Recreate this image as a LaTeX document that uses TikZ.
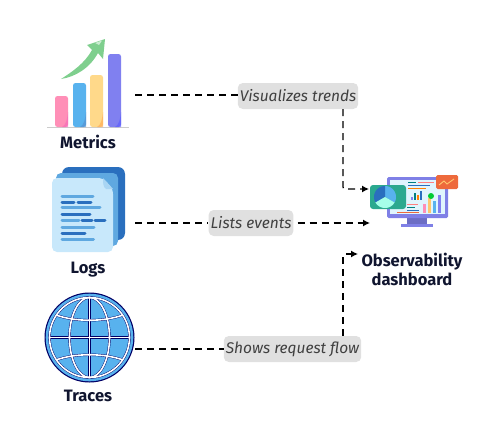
\documentclass[tikz,border=0pt]{standalone}
\usepackage{fontspec}
\setmainfont{Fira Sans}
\usetikzlibrary{positioning, calc, arrows.meta}
\definecolor{inkdark}{HTML}{10152F}
\definecolor{taggray}{HTML}{E0E0E0}
\definecolor{skyblue}{HTML}{58B2EE}
\definecolor{docdark}{HTML}{2A6FBE}
\definecolor{docmid}{HTML}{5FA8E0}
\definecolor{docfront}{HTML}{C8E8FB}
\definecolor{barpink}{HTML}{FF8FB7}
\definecolor{baryellow}{HTML}{FFD98A}
\definecolor{barpurple}{HTML}{8080F0}
\definecolor{framepurple}{HTML}{7F80E6}
\definecolor{cardgreen}{HTML}{2BA98F}
\definecolor{cardorange}{HTML}{EE6A3C}
\definecolor{arrowgreen}{HTML}{7FCF8E}
\tikzset{
    title/.style={font=\fontsize{16.5}{18}\selectfont\bfseries, text=inkdark, align=center},
    tag/.style={font=\fontsize{15.5}{17}\selectfont\itshape, text=black!75, fill=taggray, rounded corners=5pt, inner xsep=2pt, minimum height=26pt},
    link/.style={dash pattern=on 7pt off 5pt, line width=1.25pt, black},
    tip/.style={-{Latex[length=7pt,width=7pt]}},
    docline/.style={line width=3pt, line cap=round},
    gridwhite/.style={white, line width=1.6pt},
    griddark/.style={black!60!blue, line width=2.4pt}
}
\begin{document}
\begin{tikzpicture}[x=1pt, y=-1pt]
    \useasboundingbox (0,0) rectangle (485,447);
    %punti di partenza e arrivo
    \coordinate (metricsout) at (135,95);
    \coordinate (logsout) at (135,223);
    \coordinate (tracesout) at (135,349);
    \coordinate (dashin) at (369,189);
    \coordinate (logsin) at (370,223);
    \coordinate (tracesin) at (358,254);
    %etichette
    \node[tag] (trends) at (298,96) {Visualizes trends};
    \node[tag] (events) at (251,223) {Lists events};
    \node[tag] (flow) at (292.5,349) {Shows request flow};
    %titoli
    \node[title] (metrics) at (88,142) {Metrics};
    \node[title] (logs) at (88,270) {Logs};
    \node[title] (traces) at (88,395.5) {Traces};
    \node[title] (dashboard) at (412,269.5) {Observability\\[1pt]dashboard};
    %disegno collegamenti
    \draw[link] (metricsout) -- (metricsout -| trends.west);
    \draw[link] (logsout) -- (events.west);
    \draw[link] (tracesout) -- (flow.west);
    \draw[link, tip, rounded corners=2pt] (trends.south -| 343,0) |- (dashin);
    \draw[link, tip, shorten <=4pt] (events.east) -- (logsin);
    \draw[link, tip, rounded corners=2pt] (flow.north -| 343,0) |- (tracesin);
    %disegno barre
    \draw[black!20, line width=0.8pt] (47,127) -- (129,127);
    \foreach \x/\h/\colbar/\colside in {55/96/barpink/magenta!60, 73/83/skyblue/docdark!80, 90/75/baryellow/orange!70, 108/54/barpurple/blue!65!white}
        {
        \fill[\colbar, rounded corners=2.5pt] (\x,127) -- (\x,\h) -- (\x+13,\h) -- (\x+13,127) -- cycle;
        \fill[\colside, opacity=0.6] (\x+13,112) -- (\x+13,127) -- (\x+7,127) .. controls (\x+11,125) and (\x+12,120) .. cycle;
        }
    %disegno freccia verde
    \fill[arrowgreen] (61,79) .. controls (72,72) and (85,63) .. (92,50) -- (87,45) -- (105,39) -- (103,59) -- (98,53) .. controls (90,68) and (75,77) .. cycle;
    \fill[white, opacity=0.6] (95,43) -- (102,40.5) -- (99,45) -- cycle;
    %disegno fogli
    \fill[docdark, rounded corners=7pt] (62,167) rectangle (125,240);
    \fill[docmid, rounded corners=5pt] (56,173) rectangle (118,246);
    \fill[docfront, rounded corners=5pt] (52,178) -- (103,178) -- (113,189) -- (113,252) -- (52,252) -- cycle;
    \fill[docfront!70!docmid] (103,178) -- (113,189) -- (106,189) .. controls (103,187) and (103,183) .. cycle;
    \foreach \xa/\xb/\y/\col in {62/93/196/docmid, 62/74/202/docdark, 78/91/202/docdark, 62/100/207/docmid, 62/90/214/docdark, 62/79/220/docmid, 82/92/220/docdark, 95/105/220/docdark, 62/94/227/docmid, 62/85/233/docdark, 62/93.5/239/docmid}
        \draw[docline, \col] (\xa,\y) -- (\xb,\y);
    %disegno globo
    \fill[black!60!blue] (89.5,337.5) circle (45);
    \fill[skyblue] (89.5,337.5) circle (43.8);
    \draw[griddark] (89.5,337.5) circle (40);
    \draw[griddark] (89.5,337.5) ellipse (20 and 40);
    \draw[griddark] (89.5,297.5) -- (89.5,377.5);
    \draw[griddark] (49.5,337.5) -- (129.5,337.5);
    \draw[griddark] (56,315) .. controls (75,322) and (104,322) .. (123,315);
    \draw[griddark] (56,360) .. controls (75,353) and (104,353) .. (123,360);
    \draw[gridwhite] (89.5,337.5) circle (40);
    \draw[gridwhite] (89.5,337.5) ellipse (20 and 40);
    \draw[gridwhite] (89.5,297.5) -- (89.5,377.5);
    \draw[gridwhite] (49.5,337.5) -- (129.5,337.5);
    \draw[gridwhite] (56,315) .. controls (75,322) and (104,322) .. (123,315);
    \draw[gridwhite] (56,360) .. controls (75,353) and (104,353) .. (123,360);
    %disegno monitor
    \fill[framepurple] (401,224) rectangle (433,227);
    \fill[framepurple!85!black] (407,218) rectangle (427,224);
    \fill[framepurple, rounded corners=1.5pt] (387,177) rectangle (448,218);
    \fill[cyan!12!white] (390,180) rectangle (445,214);
    %disegno righe e barre nello schermo
    \draw[teal, line width=1pt] (408,182) -- (416,182);
    \draw[red!50, line width=1pt] (418,182) -- (434,182);
    \draw[docdark, line width=1pt] (408,185) -- (430,185);
    \draw[orange, line width=1pt] (408,188) -- (426,188);
    \foreach \x/\h/\col in {411/197/barpurple, 414/193/teal, 417/195/orange, 420/191/docdark}
        \fill[\col] (\x,\h) rectangle (\x+2,200);
    \foreach \xa/\xb/\y/\col in {407/418/204/red!50, 407/415/207/teal, 407/419/210/docdark}
        \draw[\col, line width=1pt] (\xa,\y) -- (\xb,\y);
    \draw[cardorange, line width=1pt] (397,212) -- (419,212);
    \foreach \x/\h/\col in {423/204/barpink, 428/198/baryellow!80!orange, 433/201/skyblue, 438/195/barpurple}
        \fill[\col] (\x,\h) rectangle (\x+3,213);
    \fill[green!60!teal] (431,196) circle (3);
    %disegno carta verde
    \fill[cardgreen, rounded corners=3pt] (370,185) rectangle (406,209);
    \fill[skyblue] (385,197) -- plot[domain=90:-30, smooth, variable=\a] ({385+11*cos(\a)},{197-11*sin(\a)}) -- cycle;
    \fill[docdark] (385,197) -- plot[domain=90:210, smooth, variable=\a] ({385+11*cos(\a)},{197-11*sin(\a)}) -- cycle;
    \fill[green!25!cyan!35!white] (385,197) -- plot[domain=210:330, smooth, variable=\a] ({385+11*cos(\a)},{197-11*sin(\a)}) -- cycle;
    %disegno carta arancione
    \fill[cardorange, rounded corners=1.5pt] (436,175) rectangle (458,189);
    \draw[baryellow!80!orange, line width=0.9pt] (439,185) -- (444,181) -- (447,184) -- (454,179);
\end{tikzpicture}
\end{document}
